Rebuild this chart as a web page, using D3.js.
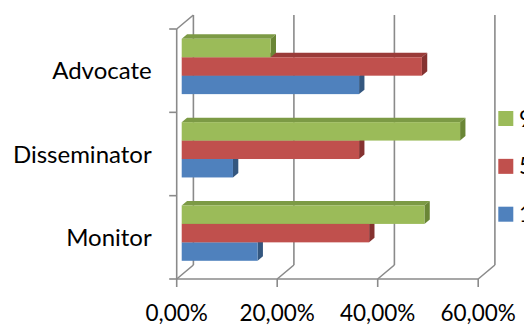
<!DOCTYPE html>
<html><head><meta charset="utf-8">
<script src="https://cdn.jsdelivr.net/npm/d3@7"></script>
<style>html,body{margin:0;padding:0;background:#fff;overflow:hidden}svg{display:block}</style>
</head><body>
<svg id="c" width="524" height="325"></svg>
<script>
const categories = ["Advocate", "Disseminator", "Monitor"];
const seriesNames = ["9º ano", "5º ano", "1º ano"];
const seriesGreen = [17.7, 55.4, 48.3];
const seriesRed = [47.8, 35.3, 37.3];
const seriesBlue = [35.3, 10.2, 15.1];
const xTicks = [0, 20, 40, 60];
const xTickLabels = ["0,00%", "20,00%", "40,00%", "60,00%"];

const seriesValues = [seriesGreen, seriesRed, seriesBlue];
const fills = [
  {front:"#9BBB59", top:"#7C9A45", side:"#6A8636"},
  {front:"#C0504D", top:"#9A3B39", side:"#853230"},
  {front:"#4F81BD", top:"#3E6799", side:"#34577F"}
];

const svg = d3.select("#c");
const FONT = "Lato, 'Open Sans', sans-serif";
const x = d3.scaleLinear().domain([0, 60]).range([176.7, 478.2]);
const y = d3.scaleBand().domain(categories).range([29, 279]);
const inner = d3.scaleBand().domain(d3.range(3)).range([0, y.bandwidth()]).paddingOuter(0.76).paddingInner(0);
const DX = 16.7, DY = -14;
const grid = "#8a8a8a";

// back wall gridlines
const g = svg.append("g").attr("stroke", grid).attr("stroke-width", 1.6).attr("fill", "none");
xTicks.forEach(t => {
  g.append("line").attr("x1", x(t)+DX).attr("x2", x(t)+DX).attr("y1", 29+DY).attr("y2", 279+DY);
  g.append("line").attr("x1", x(t)).attr("y1", 279).attr("x2", x(t)+DX).attr("y2", 279+DY);
  g.append("line").attr("x1", x(t)).attr("x2", x(t)).attr("y1", 279).attr("y2", 287);
});
g.append("line").attr("x1", x(0)).attr("y1", 29).attr("x2", x(0)+DX).attr("y2", 29+DY);
g.append("line").attr("x1", x(0)).attr("x2", x(0)).attr("y1", 29).attr("y2", 279);
g.append("line").attr("x1", x(0)).attr("x2", x(60)).attr("y1", 279).attr("y2", 279);
const yTickPos = categories.map(c => y(c)).concat([y.range()[1]]);
yTickPos.forEach(p => {
  g.append("line").attr("x1", x(0)-7.5).attr("x2", x(0)).attr("y1", p).attr("y2", p);
});

// bars
const f1 = 0.3, f2 = 0.62;
const bars = svg.append("g");
categories.forEach((cat, ci) => {
  for (let si = 2; si >= 0; si--) {
    const v = seriesValues[si][ci];
    const x0 = x(0) + DX*f1, x1 = x(v) + DX*f1;
    const yt = y(cat) + inner(si) + DY*f1, h = inner.bandwidth();
    const ddx = DX*(f2-f1), ddy = DY*(f2-f1);
    const c = fills[si];
    bars.append("path").attr("fill", c.top)
      .attr("d", `M${x0},${yt}L${x1},${yt}L${x1+ddx},${yt+ddy}L${x0+ddx},${yt+ddy}Z`);
    bars.append("path").attr("fill", c.side)
      .attr("d", `M${x1},${yt}L${x1+ddx},${yt+ddy}L${x1+ddx},${yt+h+ddy}L${x1},${yt+h}Z`);
    bars.append("rect").attr("fill", c.front)
      .attr("x", x0).attr("y", yt).attr("width", x1-x0).attr("height", h);
  }
});

// category labels
svg.append("g").selectAll("text").data(categories).join("text")
  .attr("x", 151.7).attr("y", d => y(d) + y.bandwidth()/2 + 8.8)
  .attr("text-anchor", "end").attr("font-family", FONT).attr("font-size", 24).attr("fill", "#000")
  .text(d => d);

// x tick labels
svg.append("g").selectAll("text").data(xTicks).join("text")
  .attr("x", d => x(d)).attr("y", 320.5)
  .attr("text-anchor", "middle").attr("font-family", FONT).attr("font-size", 22.5).attr("fill", "#000")
  .text((d, i) => xTickLabels[i]);

// legend
const legY = d3.scalePoint().domain(seriesNames).range([111, 206.7]);
const leg = svg.append("g");
seriesNames.forEach((s, i) => {
  leg.append("rect").attr("x", 498.3).attr("y", legY(s)).attr("width", 15).attr("height", 15).attr("fill", fills[i].front);
  leg.append("text").attr("x", 519).attr("y", legY(s) + 15.5).attr("font-family", FONT).attr("font-size", 22.5).attr("fill", "#000").text(s);
});
</script>
</body></html>
